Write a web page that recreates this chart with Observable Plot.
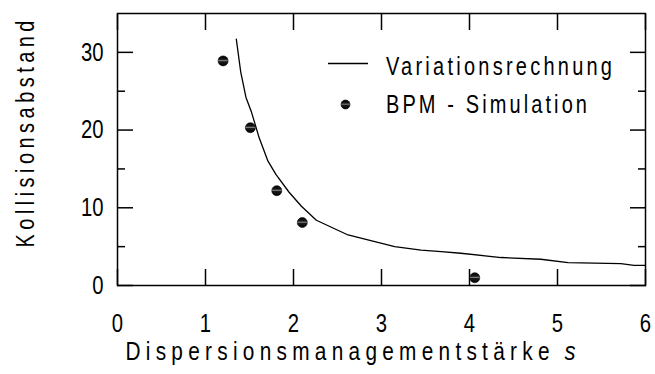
<!DOCTYPE html>
<html>
<head>
<meta charset="utf-8">
<script src="https://cdn.jsdelivr.net/npm/d3@7"></script>
<script src="https://cdn.jsdelivr.net/npm/@observablehq/plot@0.6"></script>
<style>
  body { margin: 0; background: #fff; }
  #chart { position: relative; width: 655px; height: 374px; font-family: "Liberation Sans", Arial, sans-serif; color: #000; }
  #chart svg.legend { position: absolute; left: 0; top: 0; pointer-events: none; }
</style>
</head>
<body>
<div id="chart"></div>
<script>
// Variationsrechnung: Kollisionsabstand über der Dispersionsmanagementstärke s
const curveS = [1.35, 1.40, 1.46, 1.52, 1.61, 1.71, 1.80, 1.95, 2.09, 2.26, 2.62, 3.15, 3.45, 3.68, 3.90, 4.36, 4.81, 5.12, 5.72, 5.87, 6.00];
const curveK = [31.7, 27.5, 24.2, 22.4, 19.0, 16.0, 14.3, 12.0, 10.2, 8.4, 6.5, 5.0, 4.55, 4.36, 4.15, 3.6, 3.38, 2.95, 2.82, 2.6, 2.6];

// BPM-Simulation
const simS = [1.20, 1.51, 1.81, 2.10, 4.06];
const simK = [28.9, 20.3, 12.2, 8.1, 1.0];

// Achsen
const xTicks = [0, 1, 2, 3, 4, 5, 6];
const yTicks = [0, 10, 20, 30];
const yMinor = [5, 15, 25];
const xLabel = "Dispersionsmanagementstärke";
const xSymbol = "s";
const yLabel = "Kollisionsabstand";
const legendLabels = ["Variationsrechnung", "BPM - Simulation"];

const curve = curveS.map((s, i) => ({s, k: curveK[i]}));
const sim = simS.map((s, i) => ({s, k: simK[i]}));

const font = "'Liberation Sans', Arial, sans-serif";
const fmt = d3.format("d");
const xLabelWidth = 424;   // spread width of the x title word

// shaded ball used for the simulation dots
const ballDefs = () => {
  const defs = d3.create("svg:defs");
  const g = defs.append("linearGradient").attr("id", "ball").attr("x1", 0).attr("y1", 0).attr("x2", 0).attr("y2", 1);
  [[0, "#000"], [0.35, "#1a1a1a"], [0.47, "#808080"], [0.58, "#1a1a1a"], [1, "#000"]]
    .forEach(([o, c]) => g.append("stop").attr("offset", o).attr("stop-color", c));
  return defs.node();
};

const plot = Plot.plot({
  width: 655,
  height: 374,
  marginLeft: 117,
  marginRight: 10,
  marginTop: 13,
  marginBottom: 89,
  x: {domain: [0, 6]},
  y: {domain: [0, 35]},
  style: {fontFamily: font, fontSize: "26px", color: "#000", background: "#fff", overflow: "visible"},
  marks: [
    ballDefs,
    // tick labels
    Plot.axisX({ticks: xTicks, anchor: "bottom", tickSize: 0, tickPadding: 28, tickFormat: fmt, label: null, className: "ticklab"}),
    Plot.axisY({ticks: yTicks, anchor: "left", tickSize: 0, tickPadding: 14, tickFormat: fmt, label: null, className: "ticklab"}),
    // inward ticks on all four sides
    Plot.axisX({ticks: xTicks, anchor: "bottom", tickSize: -16, tickFormat: () => "", label: null, strokeWidth: 1.5}),
    Plot.axisX({ticks: xTicks, anchor: "top", tickSize: -16, tickFormat: () => "", label: null, strokeWidth: 1.5}),
    Plot.axisY({ticks: yTicks, anchor: "left", tickSize: -16, tickFormat: () => "", label: null, strokeWidth: 1.5}),
    Plot.axisY({ticks: yTicks, anchor: "right", tickSize: -16, tickFormat: () => "", label: null, strokeWidth: 1.5}),
    Plot.axisY({ticks: yMinor, anchor: "left", tickSize: -8, tickFormat: () => "", label: null, strokeWidth: 1.5}),
    Plot.axisY({ticks: yMinor, anchor: "right", tickSize: -8, tickFormat: () => "", label: null, strokeWidth: 1.5}),
    Plot.frame({stroke: "#000", strokeWidth: 1.5}),
    Plot.line(curve, {x: "s", y: "k", stroke: "#000", strokeWidth: 1.3}),
    Plot.dot(sim, {x: "s", y: "k", r: 5, fill: "url(#ball)", stroke: "#000", strokeWidth: 0.6}),
    Plot.text([xLabel], {frameAnchor: "bottom-left", textAnchor: "start", dx: 8, dy: 74, fontSize: 26, className: "xlabel"}),
    Plot.text([xSymbol], {frameAnchor: "bottom-left", textAnchor: "start", dx: 8 + xLabelWidth + 15, dy: 74, fontSize: 26, fontStyle: "italic", className: "xsym"}),
    Plot.text([yLabel], {frameAnchor: "left", textAnchor: "middle", rotate: -90, dx: -92, dy: -15.5, fontSize: 25, className: "ylabel"})
  ]
});

const chart = document.getElementById("chart");
chart.append(plot);

// legend
const legend = d3.select(chart).append("svg").attr("class", "legend")
  .attr("width", 655).attr("height", 374)
  .style("font-family", font).style("font-size", "25px");
legend.append("line").attr("x1", 328).attr("x2", 368).attr("y1", 63.5).attr("y2", 63.5)
  .attr("stroke", "#000").attr("stroke-width", 1.3);
legend.append("circle").attr("cx", 345.5).attr("cy", 104.5).attr("r", 4.5)
  .attr("fill", "url(#ball)").attr("stroke", "#000").attr("stroke-width", 0.6);
legend.append("text").attr("class", "lg0").attr("x", 386).attr("y", 75).text(legendLabels[0]);
legend.append("text").attr("class", "lg1").attr("x", 386).attr("y", 113).text(legendLabels[1]);

// condensed glyphs with wide tracking: squeeze horizontally about the text's
// own anchor point, then spread the letters to the given width
function narrow(sel, s, width) {
  sel.each(function () {
    const fs = parseFloat(getComputedStyle(this).fontSize) || 16;
    const xa = this.getAttribute("x") || "0";
    const X = xa.endsWith("em") ? parseFloat(xa) * fs : parseFloat(xa) || 0;
    const tr = this.getAttribute("transform") || "";
    this.setAttribute("transform", `${tr} translate(${X},0) scale(${s},1) translate(${-X},0)`);
    if (width) {
      this.setAttribute("textLength", width / s);
      this.setAttribute("lengthAdjust", "spacing");
    }
  });
}
narrow(d3.select(plot).selectAll(".ticklab text"), 0.78);
narrow(d3.select(plot).selectAll(".xlabel text"), 0.8, xLabelWidth);
narrow(d3.select(plot).selectAll(".xsym text"), 0.85);
narrow(d3.select(plot).selectAll(".ylabel text"), 0.8, 227);
narrow(legend.select(".lg0"), 0.8, 226);
narrow(legend.select(".lg1"), 0.8, 201);
</script>
</body>
</html>
